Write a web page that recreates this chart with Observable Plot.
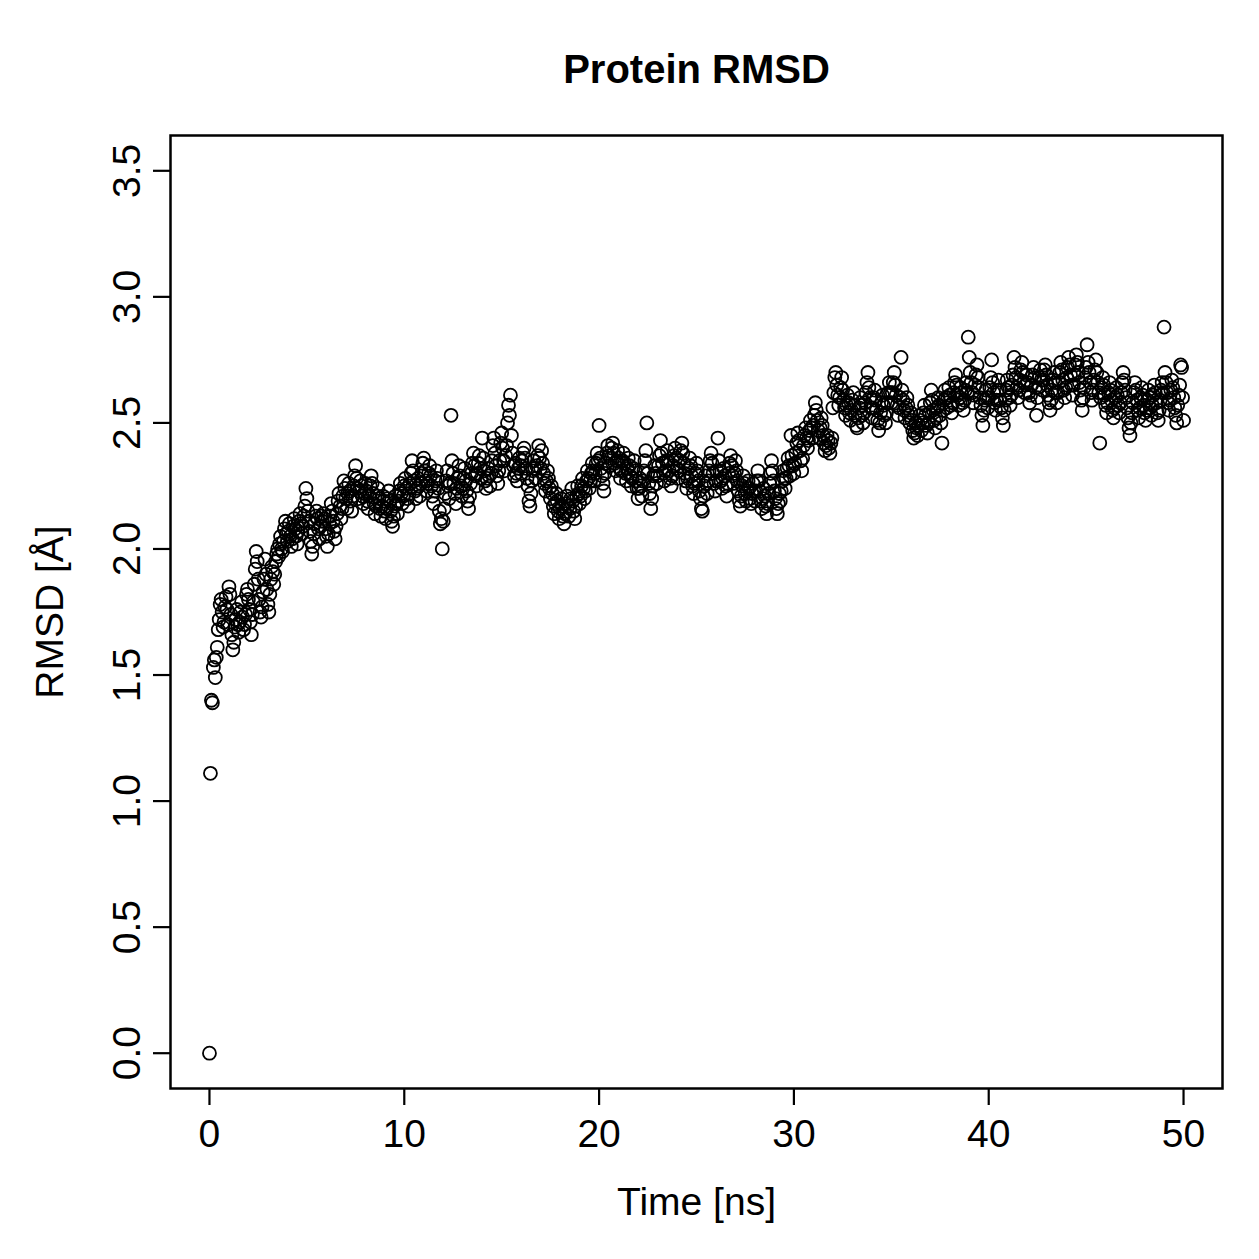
<!DOCTYPE html>
<html>
<head>
<meta charset="utf-8">
<script src="https://cdn.jsdelivr.net/npm/d3@7"></script>
<script src="https://cdn.jsdelivr.net/npm/@observablehq/plot@0.6"></script>
<style>
  html, body { margin: 0; padding: 0; background: #fff; }
  svg { display: block; }
</style>
</head>
<body>
<div id="chart"></div>
<script>
// Sampling interval of the trajectory (ns)
const timeStep = 0.05;

// RMSD values (Å), one row per ns (20 frames per ns)
const rmsd = [
  0.00,1.11,1.40,1.39,1.53,1.56,1.49,1.57,1.61,1.68,1.72,1.78,1.80,1.75,1.69,1.71,1.77,1.81,1.76,1.70,
  1.85,1.82,1.74,1.66,1.60,1.63,1.69,1.72,1.76,1.70,1.67,1.71,1.75,1.79,1.73,1.68,1.70,1.74,1.82,1.84,
  1.80,1.76,1.71,1.66,1.74,1.79,1.86,1.92,1.99,1.95,1.88,1.80,1.75,1.73,1.77,1.83,1.88,1.96,1.90,1.84,
  1.78,1.75,1.82,1.88,1.93,1.91,1.86,1.90,1.95,1.98,2.00,1.97,2.02,2.05,2.00,1.99,2.03,2.08,2.11,2.06,
  2.03,2.07,2.10,2.05,2.01,2.04,2.09,2.12,2.08,2.05,2.02,2.07,2.11,2.14,2.10,2.06,2.09,2.13,2.17,2.24,
  2.20,2.15,2.11,2.07,2.03,1.98,2.01,2.06,2.10,2.13,2.15,2.12,2.08,2.04,2.09,2.13,2.11,2.14,2.12,2.08,
  2.05,2.01,2.06,2.10,2.13,2.18,2.15,2.11,2.07,2.04,2.09,2.14,2.19,2.22,2.17,2.12,2.16,2.21,2.27,2.24,
  2.20,2.16,2.22,2.26,2.23,2.19,2.15,2.21,2.25,2.29,2.33,2.28,2.24,2.20,2.23,2.27,2.25,2.21,2.18,2.22,
  2.26,2.23,2.19,2.16,2.21,2.25,2.29,2.26,2.22,2.18,2.14,2.17,2.21,2.24,2.20,2.16,2.13,2.17,2.21,2.19,
  2.15,2.12,2.16,2.20,2.23,2.19,2.15,2.11,2.09,2.13,2.17,2.21,2.18,2.14,2.19,2.23,2.26,2.22,2.18,2.21,
  2.25,2.28,2.24,2.20,2.17,2.22,2.26,2.30,2.35,2.31,2.27,2.23,2.20,2.24,2.28,2.25,2.21,2.26,2.30,2.34,
  2.36,2.31,2.27,2.23,2.26,2.30,2.33,2.29,2.25,2.21,2.18,2.23,2.27,2.31,2.28,2.24,2.15,2.10,2.12,2.00,
  2.11,2.16,2.22,2.27,2.31,2.25,2.20,2.26,2.53,2.35,2.30,2.26,2.22,2.18,2.24,2.28,2.33,2.29,2.25,2.21,
  2.24,2.28,2.32,2.27,2.23,2.19,2.16,2.21,2.26,2.30,2.34,2.38,2.33,2.29,2.25,2.30,2.34,2.37,2.32,2.28,
  2.44,2.36,2.31,2.27,2.24,2.28,2.32,2.29,2.25,2.30,2.35,2.41,2.44,2.38,2.33,2.29,2.26,2.31,2.35,2.42,
  2.46,2.40,2.35,2.31,2.37,2.41,2.50,2.57,2.53,2.61,2.45,2.38,2.33,2.29,2.34,2.30,2.27,2.32,2.36,2.33,
  2.30,2.35,2.38,2.40,2.36,2.32,2.28,2.25,2.19,2.17,2.22,2.27,2.31,2.35,2.32,2.28,2.33,2.37,2.41,2.36,
  2.32,2.39,2.34,2.30,2.26,2.23,2.27,2.31,2.28,2.24,2.20,2.25,2.22,2.17,2.14,2.18,2.22,2.19,2.15,2.12,
  2.16,2.20,2.17,2.13,2.10,2.14,2.18,2.21,2.17,2.13,2.16,2.20,2.24,2.19,2.15,2.12,2.17,2.21,2.25,2.22,
  2.18,2.21,2.25,2.28,2.24,2.20,2.23,2.27,2.31,2.28,2.24,2.27,2.30,2.34,2.31,2.27,2.30,2.34,2.38,2.35,
  2.49,2.36,2.32,2.29,2.26,2.23,2.30,2.34,2.38,2.41,2.37,2.33,2.36,2.40,2.42,2.38,2.34,2.31,2.35,2.39,
  2.36,2.32,2.28,2.31,2.35,2.38,2.34,2.30,2.27,2.32,2.36,2.33,2.29,2.25,2.28,2.32,2.35,2.31,2.27,2.24,
  2.20,2.24,2.28,2.25,2.21,2.27,2.31,2.35,2.39,2.50,2.30,2.26,2.22,2.16,2.20,2.25,2.29,2.33,2.30,2.26,
  2.29,2.33,2.37,2.43,2.38,2.34,2.30,2.27,2.31,2.35,2.39,2.35,2.31,2.28,2.25,2.29,2.33,2.37,2.40,2.36,
  2.32,2.28,2.31,2.35,2.39,2.42,2.38,2.34,2.30,2.27,2.24,2.28,2.32,2.36,2.33,2.29,2.25,2.22,2.26,2.30,
  2.34,2.31,2.27,2.23,2.20,2.16,2.15,2.21,2.25,2.29,2.26,2.22,2.27,2.31,2.35,2.38,2.34,2.30,2.26,2.23,
  2.27,2.31,2.44,2.35,2.31,2.27,2.24,2.28,2.32,2.29,2.25,2.21,2.26,2.30,2.34,2.37,2.33,2.29,2.26,2.30,
  2.35,2.31,2.27,2.23,2.19,2.17,2.21,2.25,2.29,2.26,2.22,2.19,2.23,2.27,2.24,2.20,2.18,2.22,2.26,2.23,
  2.19,2.23,2.27,2.31,2.27,2.23,2.19,2.16,2.20,2.24,2.21,2.17,2.14,2.18,2.22,2.26,2.30,2.35,2.31,2.27,
  2.23,2.20,2.16,2.14,2.18,2.22,2.19,2.23,2.27,2.31,2.28,2.24,2.28,2.32,2.36,2.33,2.29,2.45,2.37,2.33,
  2.30,2.34,2.38,2.42,2.46,2.43,2.39,2.35,2.31,2.36,2.41,2.45,2.48,2.44,2.40,2.43,2.47,2.51,2.48,2.44,
  2.49,2.53,2.58,2.55,2.51,2.47,2.44,2.48,2.52,2.49,2.45,2.42,2.39,2.41,2.45,2.43,2.40,2.38,2.42,2.44,
  2.56,2.62,2.68,2.70,2.65,2.61,2.57,2.60,2.64,2.68,2.63,2.59,2.56,2.53,2.57,2.61,2.58,2.54,2.51,2.55,
  2.59,2.62,2.57,2.53,2.49,2.48,2.52,2.56,2.60,2.57,2.53,2.50,2.54,2.58,2.62,2.66,2.70,2.64,2.60,2.56,
  2.52,2.56,2.60,2.63,2.59,2.55,2.51,2.47,2.50,2.54,2.58,2.61,2.57,2.53,2.50,2.54,2.58,2.62,2.66,2.62,
  2.58,2.62,2.66,2.70,2.65,2.61,2.57,2.53,2.56,2.60,2.76,2.63,2.59,2.55,2.52,2.56,2.60,2.57,2.53,2.50,
  2.54,2.51,2.47,2.44,2.46,2.50,2.48,2.45,2.49,2.53,2.51,2.47,2.50,2.54,2.57,2.53,2.49,2.46,2.50,2.54,
  2.58,2.63,2.59,2.55,2.51,2.48,2.52,2.56,2.60,2.57,2.53,2.50,2.42,2.55,2.59,2.63,2.60,2.56,2.60,2.64,
  2.61,2.57,2.54,2.58,2.62,2.66,2.69,2.65,2.61,2.57,2.60,2.64,2.62,2.58,2.55,2.59,2.63,2.66,2.62,2.84,
  2.76,2.70,2.66,2.62,2.58,2.61,2.65,2.69,2.73,2.68,2.64,2.60,2.57,2.53,2.49,2.55,2.59,2.63,2.60,2.56,
  2.60,2.64,2.68,2.75,2.66,2.62,2.58,2.55,2.59,2.63,2.67,2.63,2.59,2.56,2.52,2.49,2.55,2.59,2.63,2.67,
  2.64,2.60,2.57,2.61,2.65,2.69,2.76,2.72,2.68,2.64,2.60,2.63,2.67,2.71,2.74,2.70,2.66,2.62,2.65,2.69,
  2.66,2.62,2.58,2.61,2.65,2.69,2.72,2.68,2.64,2.53,2.60,2.64,2.68,2.71,2.67,2.63,2.67,2.71,2.73,2.69,
  2.65,2.61,2.58,2.55,2.59,2.63,2.67,2.70,2.66,2.62,2.58,2.62,2.66,2.70,2.74,2.71,2.67,2.63,2.60,2.64,
  2.68,2.72,2.76,2.73,2.69,2.65,2.61,2.65,2.69,2.73,2.77,2.74,2.70,2.66,2.63,2.59,2.55,2.60,2.64,2.68,
  2.72,2.81,2.74,2.70,2.66,2.62,2.59,2.63,2.67,2.71,2.75,2.70,2.66,2.62,2.42,2.60,2.64,2.68,2.65,2.61,
  2.57,2.54,2.58,2.62,2.66,2.63,2.59,2.55,2.52,2.56,2.60,2.64,2.61,2.57,2.54,2.58,2.62,2.66,2.70,2.67,
  2.63,2.60,2.56,2.52,2.48,2.45,2.50,2.54,2.58,2.62,2.66,2.63,2.59,2.55,2.52,2.56,2.60,2.64,2.61,2.57,
  2.54,2.51,2.55,2.59,2.63,2.60,2.56,2.53,2.57,2.61,2.65,2.62,2.58,2.54,2.51,2.55,2.59,2.63,2.66,2.62,
  2.88,2.70,2.66,2.62,2.58,2.55,2.59,2.63,2.67,2.64,2.60,2.56,2.53,2.50,2.57,2.61,2.65,2.73,2.72,2.60,
  2.51
];

// Tick labels
const xTicks = [0, 10, 20, 30, 40, 50];
const yTicks = [0, 0.5, 1, 1.5, 2, 2.5, 3, 3.5];

// Text
const title = "Protein RMSD";
const xLabel = "Time [ns]";
const yLabel = "RMSD [Å]";

const data = rmsd.map((v, i) => ({time: +(i * timeStep).toFixed(2), rmsd: v}));

const font = "'Liberation Sans', Arial, Helvetica, sans-serif";

const chart = Plot.plot({
  width: 1259,
  height: 1259,
  marginLeft: 170,
  marginRight: 37,
  marginTop: 135,
  marginBottom: 171,
  style: {fontFamily: font, background: "#fff", color: "#000"},
  x: {domain: [-2, 52]},
  y: {domain: [-0.14, 3.64]},
  marks: [
    Plot.frame({stroke: "#000", strokeWidth: 2.5}),
    Plot.axisX({ticks: xTicks, tickSize: 17, tickPadding: 14, fontSize: 39, strokeWidth: 2.2, label: null}),
    Plot.axisY({ticks: yTicks, tickFormat: d => d.toFixed(1), tickSize: 17, tickPadding: 14, tickRotate: -90, fontSize: 39, strokeWidth: 2.2, label: null}),
    Plot.dot(data, {x: "time", y: "rmsd", r: 6.5, stroke: "#000", strokeWidth: 1.8, fill: "none"}),
    Plot.text([title], {frameAnchor: "top", dy: -65, lineAnchor: "middle", fontSize: 40, fontWeight: "bold", fill: "#000"}),
    Plot.text([xLabel], {frameAnchor: "bottom", dy: 114, lineAnchor: "middle", fontSize: 39, fill: "#000"}),
    Plot.text([yLabel], {frameAnchor: "left", dx: -120, rotate: -90, textAnchor: "middle", fontSize: 39, fill: "#000"})
  ]
});

document.getElementById("chart").appendChild(chart);
</script>
</body>
</html>
